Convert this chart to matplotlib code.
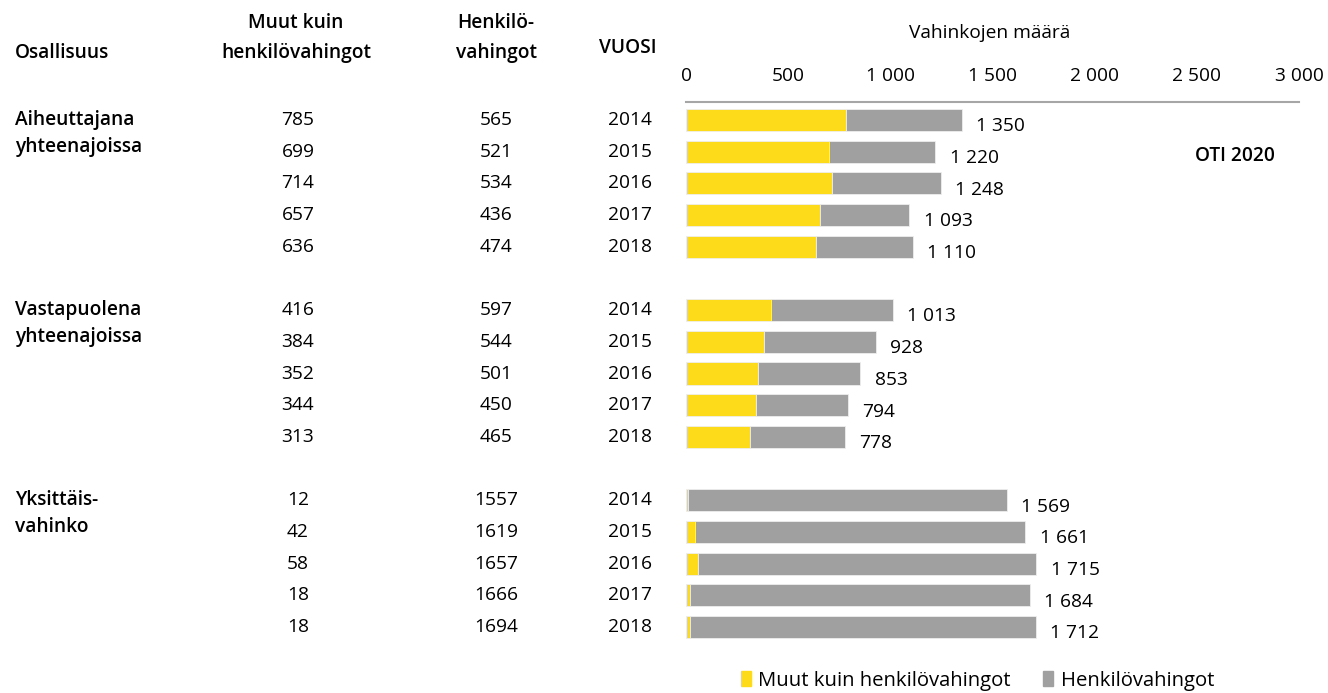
import matplotlib.pyplot as plt
import matplotlib.transforms as mtransforms
from matplotlib.patches import Patch

plt.rcParams['font.family'] = ['Open Sans', 'DejaVu Sans']

groups = [['Aiheuttajana', 'yhteenajoissa'],
          ['Vastapuolena', 'yhteenajoissa'],
          ['Yksittäis-', 'vahinko']]
years = [2014, 2015, 2016, 2017, 2018]

muut = [[785, 699, 714, 657, 636],
        [416, 384, 352, 344, 313],
        [12, 42, 58, 18, 18]]
henk = [[565, 521, 534, 436, 474],
        [597, 544, 501, 450, 465],
        [1557, 1619, 1657, 1666, 1694]]

xticks = [0, 500, 1000, 1500, 2000, 2500, 3000]

YELLOW = '#fddb1a'
GRAY = '#a0a0a0'
W, H = 1328, 693


def fmt(v):
    return f'{v:,}'.replace(',', ' ')


fig = plt.figure(figsize=(W / 100, H / 100), dpi=100)
ax = fig.add_axes([686 / W, 1 - 650 / H, (1299 - 686) / W, (650 - 102) / H])

# mixed transform: x in figure coords, y in data rows
tr = mtransforms.blended_transform_factory(fig.transFigure, ax.transData)

fs = 13.8
for g in range(3):
    for i, yr in enumerate(years):
        pos = g * 6 + i
        a, b = muut[g][i], henk[g][i]
        ax.barh(pos, a, height=0.7, color=YELLOW, edgecolor='#eeeeee', linewidth=0.6)
        ax.barh(pos, b, left=a, height=0.7, color=GRAY, edgecolor='#eeeeee', linewidth=0.6)
        ax.text(a + b + 70, pos + 0.2, fmt(a + b), va='center', ha='left', fontsize=fs)
        ax.text(298 / W, pos, str(a), transform=tr, ha='center', va='center', fontsize=fs)
        ax.text(496 / W, pos, str(b), transform=tr, ha='center', va='center', fontsize=fs)
        ax.text(630 / W, pos, str(yr), transform=tr, ha='center', va='center', fontsize=fs)
    for j, line in enumerate(groups[g]):
        ax.text(15 / W, g * 6 + j * 0.85, line, transform=tr, ha='left', va='center',
                fontsize=fs, fontweight='semibold', clip_on=False)

ax.set_xlim(0, 3000)
ax.set_ylim(16 + 23 / 31.69, -18 / 31.69)
ax.set_yticks([])
ax.xaxis.tick_top()
ax.set_xticks(xticks)
ax.set_xticklabels([fmt(t) for t in xticks])
ax.tick_params(axis='x', length=0, pad=12, labelsize=fs)
for s in ['bottom', 'left', 'right']:
    ax.spines[s].set_visible(False)
ax.spines['top'].set_color('#a6a6a6')
ax.spines['top'].set_linewidth(1.5)


# headers
def ftext(x, y, s, ha='center', **kw):
    fig.text(x / W, 1 - y / H, s, ha=ha, va='center', fontsize=fs, **kw)


ftext(15, 53, 'Osallisuus', ha='left', fontweight='semibold')
ftext(296, 23, 'Muut kuin', fontweight='semibold')
ftext(296, 53, 'henkilövahingot', fontweight='semibold')
ftext(496, 23, 'Henkilö-', fontweight='semibold')
ftext(496, 53, 'vahingot', fontweight='semibold')
ftext(628, 48, 'VUOSI', fontweight='semibold')
ftext(990, 33, 'Vahinkojen määrä')
ftext(1235, 156, 'OTI 2020', fontweight='semibold')

handles = [Patch(color=YELLOW), Patch(color=GRAY)]
fig.legend(handles, ['Muut kuin henkilövahingot', 'Henkilövahingot'],
           loc='lower left', bbox_to_anchor=(729 / W, -0.014), ncol=2, frameon=False,
           fontsize=14.6, handlelength=0.5, handleheight=0.8, handletextpad=0.35,
           columnspacing=1.6, borderpad=0.1)

fig.savefig('out.png', dpi=100)
